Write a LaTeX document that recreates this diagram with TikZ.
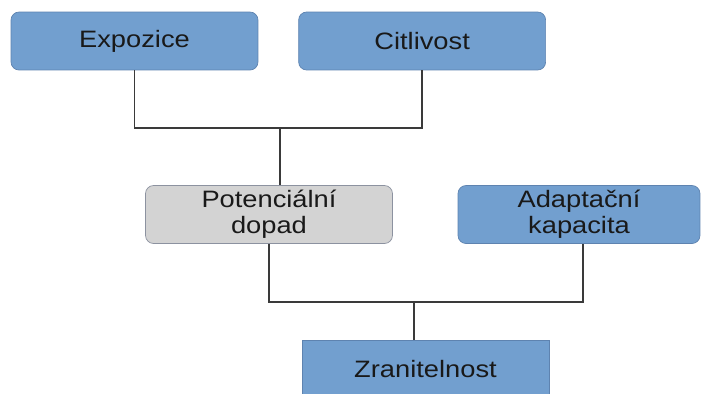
\documentclass[tikz,border=0pt]{standalone}
\usepackage{fontspec}
\setmainfont[FakeStretch=1.15]{Liberation Sans}
\usetikzlibrary{positioning}
\definecolor{boxblue}{HTML}{729FCF}
\definecolor{boxedge}{HTML}{5E83B0}
\definecolor{boxgray}{HTML}{D3D3D3}
\definecolor{grayedge}{HTML}{8C92A0}
\definecolor{wire}{HTML}{3A3A3A}

\tikzset{
  factor/.style={draw=boxedge, fill=boxblue, rounded corners=0.16cm,
    minimum width=4.94cm, minimum height=1.16cm, inner sep=0pt,
    align=center, text=black!90, font=\fontsize{13.5}{14.8}\selectfont},
  impact/.style={factor, draw=grayedge, fill=boxgray},
  link/.style={draw=wire, line width=0.8pt},
}

\begin{document}
\begin{tikzpicture}[x=0.02cm, y=-0.02cm]
    \useasboundingbox (0,0) rectangle (701,393);
    \clip (0,0) rectangle (701,393);
    % top row
    \node[factor] (expozice) at (134.5,41) {Expozice};
    \node[factor, right = 0.8cm of expozice] (citlivost) {Citlivost};
    % middle row
    \node[impact] (dopad) at (269,214.5) {Potenciální\\dopad};
    \node[factor, minimum width=4.84cm] (adapt) at (579,214.5) {Adaptační\\kapacita};
    % bottom
    \node[factor, rounded corners=0pt] (zranitelnost) at (425.5,369) {Zranitelnost};
    \coordinate (top) at (280,128);
    \coordinate (bottom) at (414,302);
    \draw[link] (expozice.south) |- (top) -| (citlivost.south);
    \draw[link] (top) -- (top |- dopad.north);
    \draw[link] (dopad.south) |- (bottom) -| ([xshift=0.08cm]adapt.south);
    \draw[link] (bottom) -- (bottom |- zranitelnost.north);
\end{tikzpicture}
\end{document}
